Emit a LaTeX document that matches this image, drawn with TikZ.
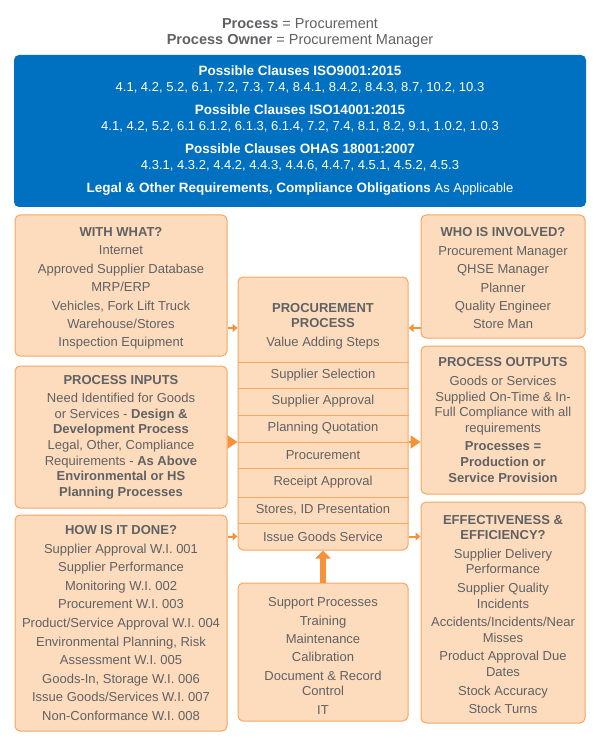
\documentclass[tikz,border=0pt]{standalone}
\usepackage{fontspec}
\setmainfont{Liberation Sans}
\usetikzlibrary{arrows.meta,positioning}

\definecolor{clauseblue}{RGB}{0,112,192}
\definecolor{peach}{RGB}{253,220,189}
\definecolor{peachline}{RGB}{248,166,98}
\definecolor{arroworange}{RGB}{247,145,58}
\definecolor{textgray}{RGB}{96,97,100}

\newcommand{\clausehead}[1]{{\fontsize{13.5}{16}\selectfont\bfseries #1}}

\begin{document}
\begin{tikzpicture}[x=1pt, y=-1pt,
    box/.style={draw=peachline, fill=peach, line width=1pt, rounded corners=5pt,
      inner sep=0pt, align=center, text=textgray, font=\fontsize{13}{15.6}\selectfont},
    rowtext/.style={text=textgray, font=\fontsize{13}{15.6}\selectfont},
    thinarrow/.style={draw=arroworange, line width=2pt, -{Triangle[length=5pt,width=8pt]}},
    bigarrow/.style={draw=arroworange, line width=2pt, -{Triangle[length=10pt,width=13pt]}},
    uparrow/.style={draw=arroworange, line width=6pt, -{Triangle[length=8pt,width=15pt]}}]
  \useasboundingbox (0,0) rectangle (600,743);

  % title
  \node[text=textgray, align=center, font=\fontsize{14.5}{16}\selectfont] (title) at (300,33)
    {\textbf{Process} = Procurement\\ \textbf{Process Owner} = Procurement Manager};

  % clauses
  \node[fill=clauseblue, rounded corners=5pt, minimum width=572pt, minimum height=152pt,
    inner sep=0pt, text=white, align=center, font=\fontsize{13}{16}\selectfont] (clauses) at (300,131)
    {\clausehead{Possible Clauses ISO9001:2015}\\
     4.1, 4.2, 5.2, 6.1, 7.2, 7.3, 7.4, 8.4.1, 8.4.2, 8.4.3, 8.7, 10.2, 10.3\\[7pt]
     \clausehead{Possible Clauses ISO14001:2015}\\
     4.1, 4.2, 5.2, 6.1 6.1.2, 6.1.3, 6.1.4, 7.2, 7.4, 8.1, 8.2, 9.1, 1.0.2, 1.0.3\\[7pt]
     \clausehead{Possible Clauses OHAS 18001:2007}\\
     4.3.1, 4.3.2, 4.4.2, 4.4.3, 4.4.6, 4.4.7, 4.5.1, 4.5.2, 4.5.3\\[7pt]
     \clausehead{Legal \& Other Requirements, Compliance Obligations} As Applicable};

  % left column
  \node[box, minimum width=212pt, minimum height=141pt] (withwhat) at (121,285.5)
    {\rule{0pt}{15pt}\textbf{WITH WHAT?}\\[2.8pt] Internet\\[2.8pt] Approved Supplier Database\\[2.8pt]
     MRP/ERP\\[2.8pt] Vehicles, Fork Lift Truck\\[2.8pt] Warehouse/Stores\\[2.8pt]
     Inspection Equipment};
  \node[box, minimum width=212pt, minimum height=142pt] (inputs) at (121,437)
    {\textbf{PROCESS INPUTS}\\[3pt] Need Identified for Goods\\ or Services - \textbf{Design \&}\\
     \textbf{Development Process}\\ Legal, Other, Compliance\\ Requirements - \textbf{As Above}\\
     \textbf{Environmental or HS}\\ \textbf{Planning Processes}};
  \node[box, minimum width=212pt, minimum height=216pt] (howdone) at (121,623)
    {\textbf{HOW IS IT DONE?}\\[3pt] Supplier Approval W.I. 001\\[3pt] Supplier Performance\\[3pt]
     Monitoring W.I. 002\\[3pt] Procurement W.I. 003\\[3pt] Product/Service Approval W.I. 004\\[3pt]
     Environmental Planning, Risk\\[3pt] Assessment W.I. 005\\[3pt] Goods-In, Storage W.I. 006\\[3pt]
     Issue Goods/Services W.I. 007\\[3pt] Non-Conformance W.I. 008};

  % right column
  \node[box, minimum width=164pt, minimum height=123pt] (who) at (503,276.5)
    {\rule{0pt}{13pt}\textbf{WHO IS INVOLVED?}\\[2.8pt] Procurement Manager\\[2.8pt] QHSE Manager\\[2.8pt]
     Planner\\[2.8pt] Quality Engineer\\[2.8pt] Store Man};
  \node[box, minimum width=164pt, minimum height=148pt] (outputs) at (503,420)
    {\textbf{PROCESS OUTPUTS}\\[3pt] Goods or Services\\ Supplied On-Time \& In-\\
     Full Compliance with all\\ requirements\\[3pt] \textbf{Processes =}\\
     \textbf{Production or}\\ \textbf{Service Provision}};
  \node[box, minimum width=164pt, minimum height=221pt] (effect) at (503,612.5)
    {\rule{0pt}{13pt}\textbf{EFFECTIVENESS \&}\\ \textbf{EFFICIENCY?}\\[3pt] Supplier Delivery\\ Performance\\[3pt]
     Supplier Quality\\ Incidents\\[3pt] Accidents/Incidents/Near\\ Misses\\[3pt]
     Product Approval Due\\ Dates\\[3pt] Stock Accuracy\\[3pt] Stock Turns};

  % centre column
  \node[box, minimum width=170pt, minimum height=273pt] (proc) at (323,413.5) {};
  \node[rowtext, align=center] (prochead) at (323,326)
    {\textbf{PROCUREMENT}\\ \textbf{PROCESS}\\[2.5pt] Value Adding Steps};
  \foreach \y in {362,388,415,442,468,497,523}
    \draw[draw=peachline, line width=1pt] (proc.west |- 0,\y) -- (proc.east |- 0,\y);
  \node[rowtext] (selection) at (323,375) {Supplier Selection};
  \node[rowtext] (approval) at (323,401.5) {Supplier Approval};
  \node[rowtext] (quotation) at (323,428.5) {Planning Quotation};
  \node[rowtext] (procure) at (323,455) {Procurement};
  \node[rowtext] (receipt) at (323,482.5) {Receipt Approval};
  \node[rowtext] (stores) at (323,510) {Stores, ID Presentation};
  \node[rowtext] (issue) at (323,536.5) {Issue Goods Service};

  \node[box, minimum width=170pt, minimum height=138pt] (support) at (323,652)
    {\rule{0pt}{17pt}Support Processes\\[2.8pt] Training\\[2.8pt] Maintenance\\[2.8pt] Calibration\\[2.8pt]
     Document \& Record\\ Control\\[2.8pt] IT};

  % arrows
  \coordinate (topin) at (323,328);
  \coordinate (midin) at (323,442);
  \draw[thinarrow] (withwhat.east |- topin) -- (proc.west |- topin);
  \draw[thinarrow] (who.west |- topin) -- (proc.east |- topin);
  \draw[bigarrow] (inputs.east |- midin) -- (proc.west |- midin);
  \draw[bigarrow] (proc.east |- midin) -- (outputs.west |- midin);
  \draw[thinarrow] (howdone.east |- issue) -- (proc.west |- issue);
  \draw[thinarrow] (proc.east |- issue) -- (effect.west |- issue);
  \draw[uparrow] (support.north) -- (proc.south);
\end{tikzpicture}
\end{document}
